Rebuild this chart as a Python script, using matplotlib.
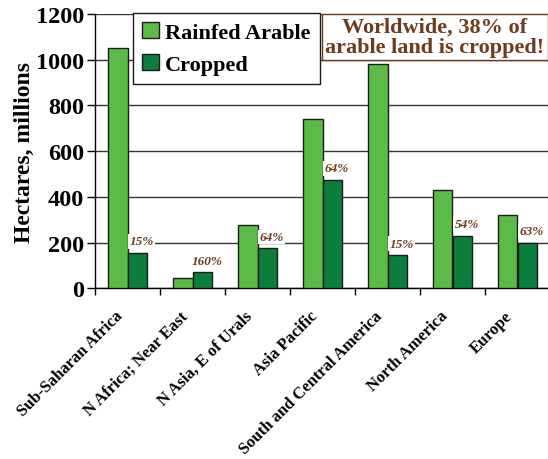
import matplotlib
matplotlib.use("Agg")
import matplotlib.pyplot as plt
import matplotlib.transforms as mtransforms
import numpy as np

regions = ["Sub-Saharan Africa", "N Africa; Near East", "N Asia, E of Urals",
           "Asia Pacific", "South and Central America", "North America", "Europe"]
rainfed_arable = [1050, 44, 275, 740, 980, 430, 320]
cropped = [155, 70, 175, 475, 145, 230, 200]
pct_labels = ["15%", "160%", "64%", "64%", "15%", "54%", "63%"]
note = "Worldwide, 38% of\narable land is cropped!"

LIGHT = "#5cbb47"
DARK = "#0c7e3c"
BROWN = "#6e3c1c"
SERIF = ["Liberation Serif", "DejaVu Serif"]

plt.rcParams["font.family"] = SERIF
plt.rcParams["font.weight"] = "bold"

fig = plt.figure(figsize=(5.48, 4.60), dpi=100)
ax = fig.add_axes([95 / 548, 170.7 / 460, 455 / 548, 274.3 / 460])

x = np.arange(len(regions))
w = 0.3
ax.bar(x - w / 2, rainfed_arable, w, color=LIGHT, edgecolor="#1a1a1a",
       linewidth=1.0, label="Rainfed Arable", zorder=3)
ax.bar(x + w / 2, cropped, w, color=DARK, edgecolor="#1a1a1a",
       linewidth=1.0, label="Cropped", zorder=3)

for xi, c, t in zip(x, cropped, pct_labels):
    ax.text(xi + w / 2 + 0.07, c + 50, t, ha="center", va="center",
            fontsize=9.5, fontstyle="italic", fontweight="bold", color=BROWN,
            bbox=dict(boxstyle="square,pad=0.1", fc="white", ec="none"),
            zorder=4)

ax.set_xlim(-0.5, len(regions) - 0.5)
ax.set_ylim(0, 1200)
ax.set_yticks(np.arange(0, 1201, 200))
ax.tick_params(axis="y", labelsize=17.5, length=6, width=1, direction="out", pad=2)
ax.yaxis.grid(True, color="#333333", linewidth=1.0, zorder=0)
ax.set_axisbelow(True)

# boundary ticks between groups, labels near group centres
ax.set_xticks(np.arange(-0.5, len(regions), 1.0))
ax.set_xticklabels([])
ax.tick_params(axis="x", which="major", length=5, width=1, direction="out")
ax.set_xticks(x, minor=True)
ax.set_xticklabels(regions, minor=True, rotation=45, ha="right",
                   rotation_mode="anchor", fontsize=12, fontweight="bold")
ax.tick_params(axis="x", which="minor", length=0, pad=14)
shift = mtransforms.ScaledTranslation(-13 / 100, 0, fig.dpi_scale_trans)
for lbl in ax.get_xticklabels(minor=True):
    lbl.set_transform(lbl.get_transform() + shift)

for s in ["top", "right"]:
    ax.spines[s].set_visible(False)
ax.spines["left"].set_linewidth(1.0)
ax.spines["bottom"].set_linewidth(1.0)

ax.set_ylabel("Hectares, millions", fontsize=17, fontweight="bold")
ax.yaxis.set_label_coords(-60 / 455, 0.5)

leg = ax.legend(loc="upper left", bbox_to_anchor=(133 / 548, 446 / 460),
                bbox_transform=fig.transFigure, fontsize=16, frameon=True,
                fancybox=False, edgecolor="#1a1a1a", framealpha=1,
                handlelength=0.75, handleheight=0.75, handletextpad=0.3,
                borderpad=0.4, labelspacing=0.5, borderaxespad=0)
leg.get_frame().set_linewidth(1.0)

fig.text(435 / 548, 422 / 460, note, ha="center", va="center",
         fontsize=16, fontweight="bold", color=BROWN, linespacing=1.0,
         bbox=dict(boxstyle="square,pad=0.15", fc="white", ec=BROWN, lw=1.0))

fig.savefig("out.png", dpi=100)
